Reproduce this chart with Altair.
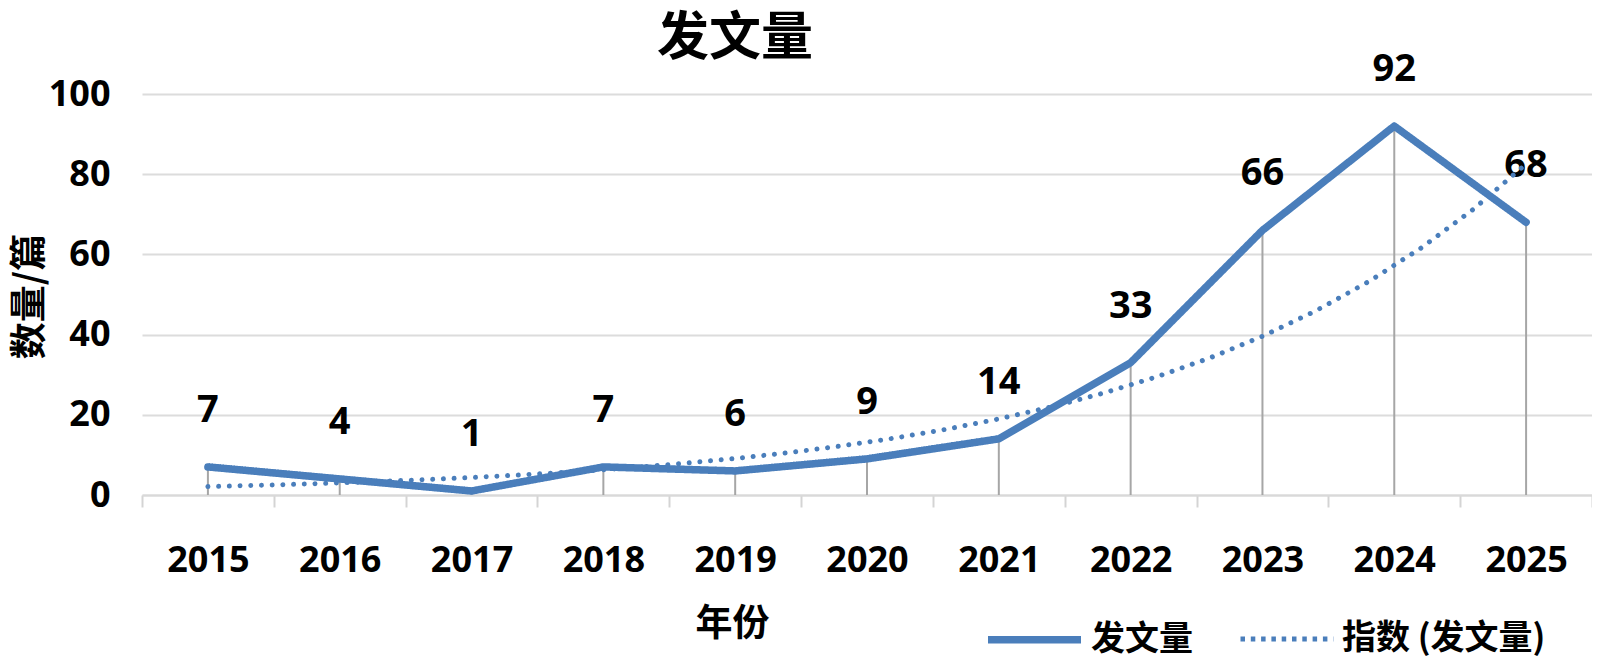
import altair as alt
import pandas as pd

years = [2015, 2016, 2017, 2018, 2019, 2020, 2021, 2022, 2023, 2024, 2025]
counts = [7, 4, 1, 7, 6, 9, 14, 33, 66, 92, 68]
series_names = ["发文量", "指数 (发文量)"]
y_ticks = [0, 20, 40, 60, 80, 100]

df = pd.DataFrame({"year": years, "count": counts, "series": series_names[0]})

FONT = "Open Sans, Noto Sans CJK SC"
CJK = "Noto Sans CJK SC"
BLUE = "#4a7ebb"

color_scale = alt.Scale(domain=series_names, range=[BLUE, BLUE])
# legend symbol dashes (round dots are drawn on the trend line itself)
dash_scale = alt.Scale(domain=series_names, range=[[1, 0], [4.5, 5.8]])
width_scale = alt.Scale(domain=series_names, range=[7.5, 5])

legend = alt.Legend(
    title=None, orient="none", legendX=842, legendY=495, direction="horizontal",
    symbolType="stroke", symbolSize=8649, labelFont=CJK, labelFontSize=34,
    labelFontWeight="bold", labelColor="black", labelLimit=400, labelOffset=6,
    columnPadding=37, symbolStrokeColor=BLUE,
)

x_band = alt.X(
    "year:O",
    scale=alt.Scale(type="band", paddingInner=0, paddingOuter=0),
    axis=alt.Axis(
        title="年份", tickBand="extent", labelAngle=0, labelFont=FONT,
        labelFontSize=36, labelFontWeight="bold", labelColor="black",
        labelBaseline="middle", labelPadding=53, tickSize=12, tickWidth=2,
        tickColor="#d4d4d4", domainColor="#d9d9d9", domainWidth=2,
        titleFont=CJK, titleFontSize=37, titleFontWeight="bold", titleColor="black",
        titleX=590, titleY=129, titleBaseline="middle", titleAlign="center",
        grid=False,
    ),
)

y_axis = alt.Axis(
    title="数量/篇", values=y_ticks, domain=False, ticks=False, tickSize=0,
    labelFont=FONT, labelFontSize=36, labelFontWeight="bold", labelColor="black",
    labelPadding=32, gridColor="#dcdcdc", gridWidth=2,
    titleFont=CJK, titleFontSize=37, titleFontWeight="bold", titleColor="black",
    titleX=-112, titleY=202, titleBaseline="middle", titleAngle=-90,
    titleAlign="center",
)
y_scale = alt.Scale(domain=[0, 100], nice=False)
y_enc = alt.Y("count:Q", scale=y_scale, axis=y_axis)

base = alt.Chart(df)

drops = base.mark_rule(color="#a6a6a6", strokeWidth=2).encode(
    x=x_band, y=y_enc, y2=alt.datum(0)
)

main_line = base.mark_line(strokeCap="round", strokeJoin="round").encode(
    x=x_band,
    y=y_enc,
    color=alt.Color("series:N", scale=color_scale, legend=legend),
    strokeDash=alt.StrokeDash("series:N", scale=dash_scale, legend=legend),
    strokeWidth=alt.StrokeWidth("series:N", scale=width_scale, legend=legend),
)

labels = base.mark_text(
    font=FONT, fontSize=38, fontWeight="bold", color="black", dy=-56, baseline="middle"
).encode(x=x_band, y=y_enc, text="count:Q")

trend = (
    base.transform_calculate(ly="log(datum.count)")
    .transform_regression("year", "ly", method="poly", order=1, extent=[2015, 2025])
    .transform_calculate(count="exp(datum.ly)", series="'指数 (发文量)'")
    .mark_line(strokeCap="round", strokeDash=[0.01, 10.7], strokeWidth=5)
    .encode(
        x=alt.X("year:Q", scale=alt.Scale(domain=[2014.5, 2025.5], nice=False, zero=False), axis=None),
        y=y_enc,
        color=alt.Color("series:N", scale=color_scale, legend=legend),
    )
)

main = alt.layer(drops, main_line, labels)

chart = (
    alt.layer(main, trend)
    .resolve_scale(x="independent")
    .properties(
        width=1450,
        height=401,
        padding={"left": 134, "top": 86, "right": 0, "bottom": 168},
        autosize=alt.AutoSizeParams(type="none"),
        title=alt.Title(
            "发文量", font=CJK, fontSize=52, fontWeight="bold", color="black",
            anchor="middle", dx=-132, offset=8, dy=23,
        ),
    )
    .configure_view(stroke=None)
)

chart.save("out.html", embed_options={"renderer": "svg", "actions": False})
